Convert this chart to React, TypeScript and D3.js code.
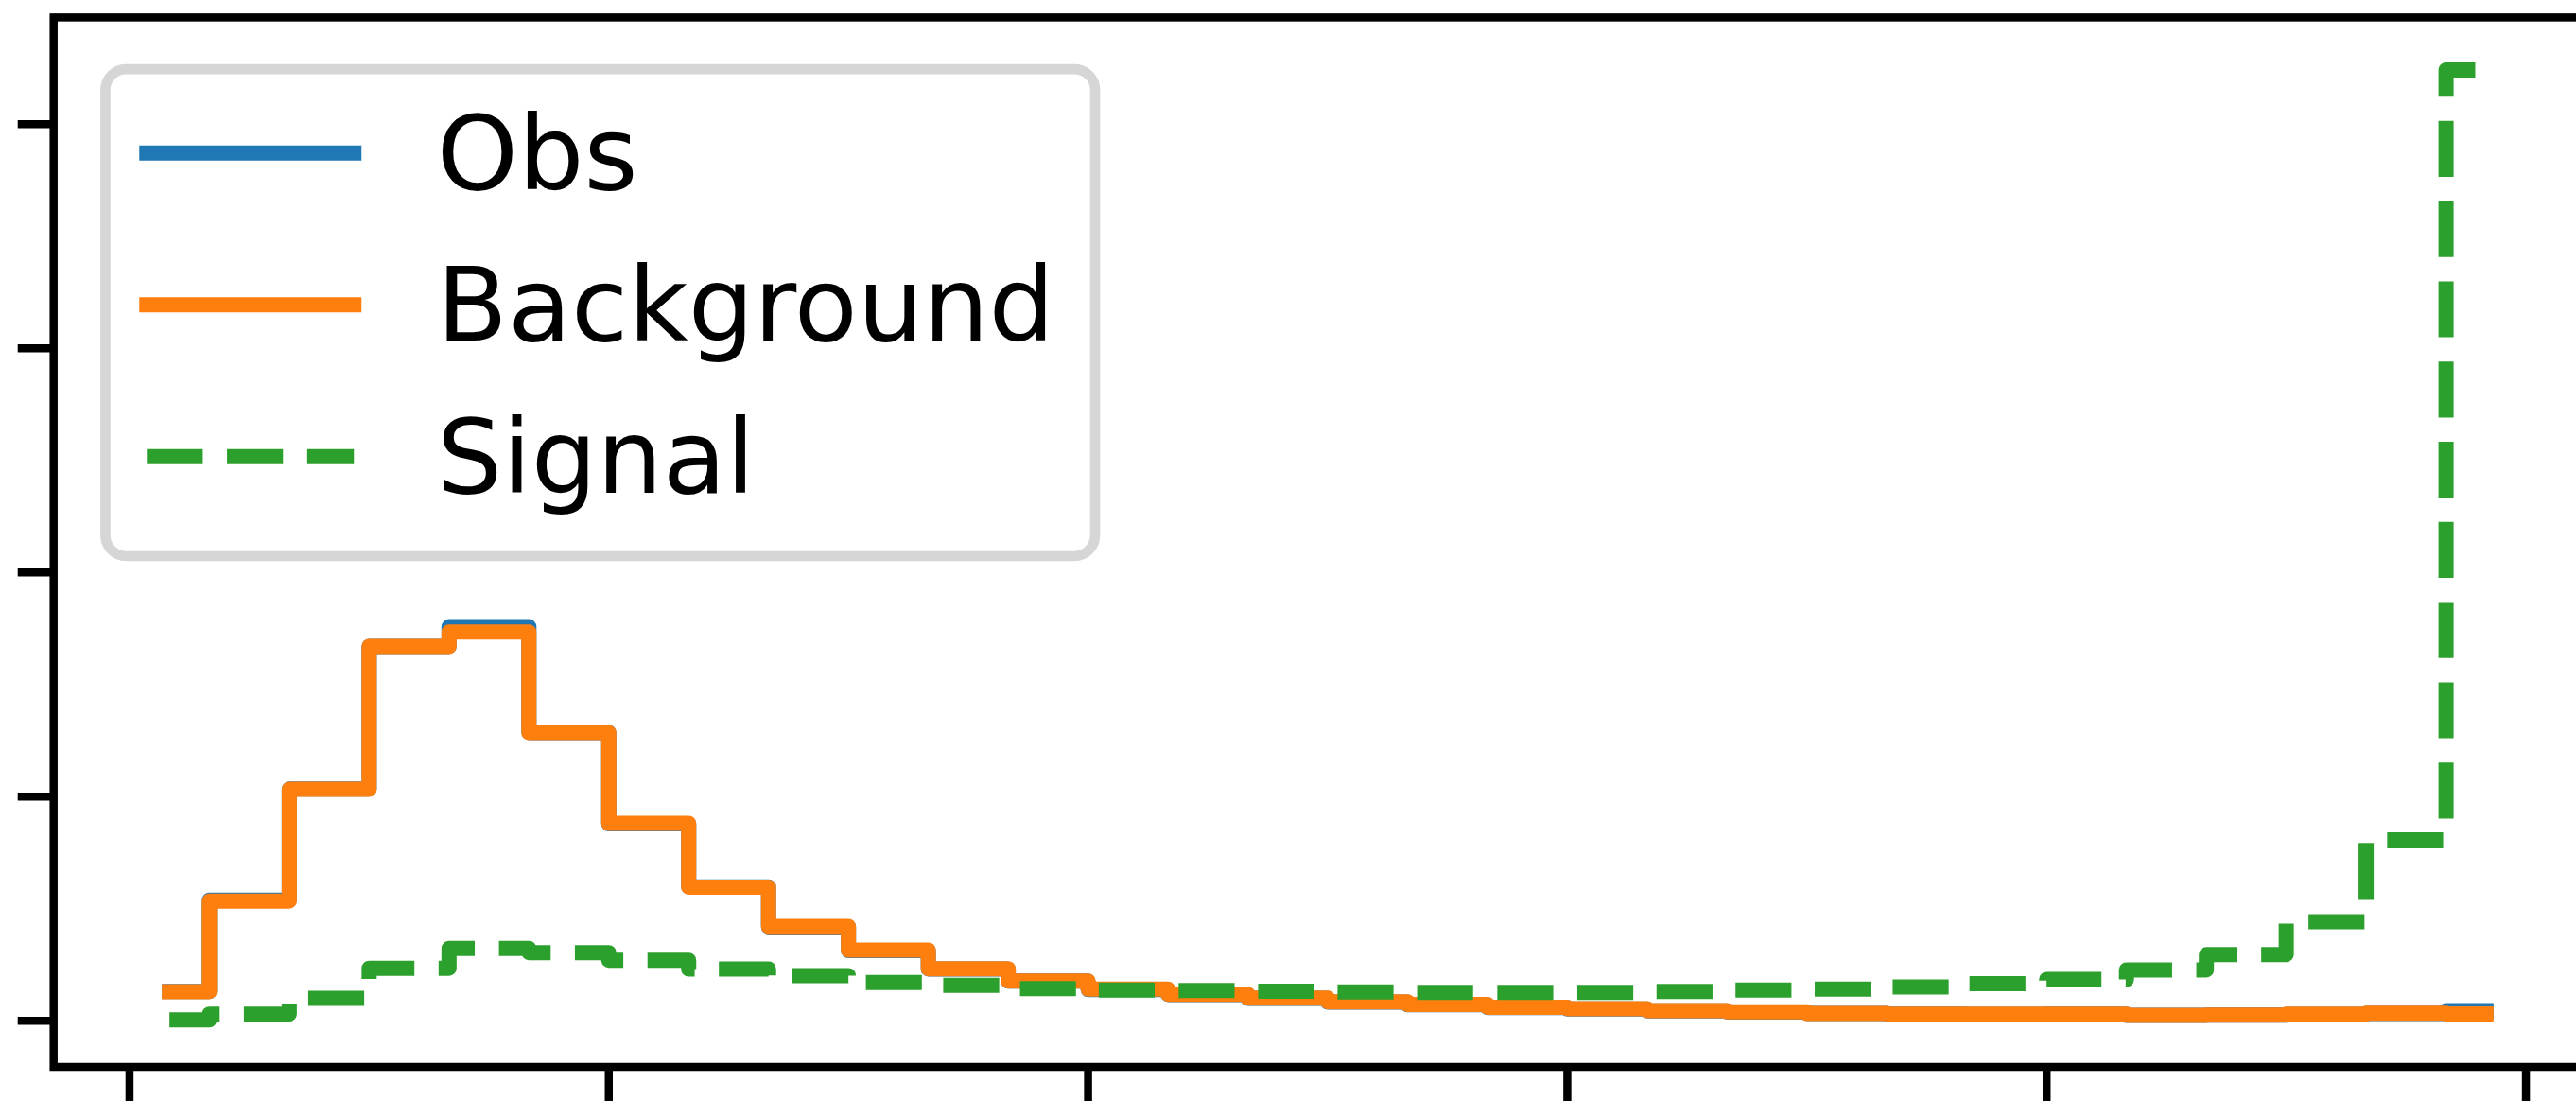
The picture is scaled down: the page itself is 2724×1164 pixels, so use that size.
import React from 'react';
import * as d3 from 'd3';

// 30 bins on [0, 1], drawn as steps-mid histograms
const nBins = 30;
const binCenters = d3.range(nBins).map(i => (i + 0.5) / nBins);

const obs = [
  0.00650, 0.02690, 0.05165, 0.08350, 0.08790, 0.06430, 0.04390, 0.02985, 0.02095, 0.01565,
  0.01155, 0.00882, 0.00695, 0.00585, 0.00498, 0.00415, 0.00355, 0.00295, 0.00262, 0.00218,
  0.00195, 0.00160, 0.00146, 0.00140, 0.00146, 0.00118, 0.00125, 0.00142, 0.00163, 0.00225,
];
const background = [
  0.00648, 0.02669, 0.05162, 0.08348, 0.08671, 0.06426, 0.04403, 0.02981, 0.02103, 0.01576,
  0.01160, 0.00886, 0.00703, 0.00591, 0.00506, 0.00422, 0.00363, 0.00300, 0.00270, 0.00225,
  0.00197, 0.00162, 0.00148, 0.00148, 0.00148, 0.00120, 0.00127, 0.00144, 0.00165, 0.00154,
];
const signal = [
  0.00020, 0.00148, 0.00502, 0.01171, 0.01614, 0.01519, 0.01350, 0.01153, 0.01006, 0.00854,
  0.00791, 0.00714, 0.00682, 0.00675, 0.00660, 0.00643, 0.00629, 0.00629, 0.00633, 0.00654,
  0.00682, 0.00703, 0.00753, 0.00829, 0.00922, 0.01135, 0.01477, 0.02211, 0.04034, 0.21209,
];

const xTicks = [0, 0.2, 0.4, 0.6, 0.8, 1.0];
const yTicks = [0, 0.05, 0.1, 0.15, 0.2];
const yLimits = [-0.0103, 0.2238];

const series = [
  { label: 'Obs', values: obs, color: '#1f77b4', dashed: false },
  { label: 'Background', values: background, color: '#ff7f0e', dashed: false },
  { label: 'Signal', values: signal, color: '#2ca02c', dashed: true },
];

const width = 2724;
const height = 1164;
const lw = 16;
const fontSize = 109.5;

export default function App() {
  // matplotlib-like 5% x margins around the bin centres
  const xMin = binCenters[0];
  const xMax = binCenters[nBins - 1];
  const pad = (xMax - xMin) * 0.05;
  const x = d3.scaleLinear().domain([xMin - pad, xMax + pad]).range([56.7, 2751.3]);
  const y = d3.scaleLinear().domain(yLimits).range([1128, 18.4]);

  const [left, right] = x.range();
  const [bottom, top] = y.range();

  const line = d3.line<number>()
    .x((d, i) => x(binCenters[i]))
    .y(d => y(d))
    .curve(d3.curveStep);

  // legend geometry (matplotlib defaults in font-size units)
  const lgLeft = left + 0.5 * fontSize;
  const lgTop = top + 0.5 * fontSize;
  const lgWidth = 1158 - lgLeft;
  const lgHeight = 588 - lgTop;
  const handleX0 = lgLeft + 0.4 * fontSize;
  const handleX1 = handleX0 + 2 * fontSize;
  const textX = handleX1 + 0.8 * fontSize;
  const rowY = (i: number) => lgTop + 88.5 + i * 160.5;

  return (
    <svg width={width} height={height} style={{ position: 'absolute', left: 0, top: 0, display: 'block' }}>
      <rect x={0} y={0} width={width} height={height} fill='#ffffff' />

      {/* Histograms */}
      {series.map(s => (
        <path
          key={s.label}
          d={line(s.values) || ''}
          fill='none'
          stroke={s.color}
          strokeWidth={lw}
          strokeLinejoin='round'
          strokeLinecap={s.dashed ? 'butt' : 'square'}
          strokeDasharray={s.dashed ? `${3.7 * lw} ${1.6 * lw}` : undefined}
        />
      ))}

      {/* Ticks, no labels */}
      {yTicks.map(t => (
        <line key={'y' + t} x1={left - 38} x2={left} y1={y(t)} y2={y(t)} stroke='#000' strokeWidth={8.5} />
      ))}
      {xTicks.map(t => (
        <line key={'x' + t} x1={x(t)} x2={x(t)} y1={bottom} y2={bottom + 38} stroke='#000' strokeWidth={8.5} />
      ))}

      {/* Spines */}
      <rect x={left} y={top} width={right - left} height={bottom - top} fill='none' stroke='#000' strokeWidth={8.5} />

      {/* Legend */}
      <g>
        <rect
          x={lgLeft}
          y={lgTop}
          width={lgWidth}
          height={lgHeight}
          rx={0.2 * fontSize}
          ry={0.2 * fontSize}
          fill='#ffffff'
          stroke='#d6d6d6'
          strokeWidth={10.7}
        />
        {series.map((s, i) => (
          <g key={s.label}>
            <line
              x1={handleX0}
              x2={handleX1}
              y1={rowY(i)}
              y2={rowY(i)}
              stroke={s.color}
              strokeWidth={lw}
              strokeLinecap={s.dashed ? 'butt' : 'square'}
              strokeDasharray={s.dashed ? `${3.7 * lw} ${1.6 * lw}` : undefined}
            />
            <text
              x={textX}
              y={rowY(i) + 38}
              fontFamily='DejaVu Sans'
              fontSize={fontSize}
              fill='#000'
            >
              {s.label}
            </text>
          </g>
        ))}
      </g>
    </svg>
  );
}
